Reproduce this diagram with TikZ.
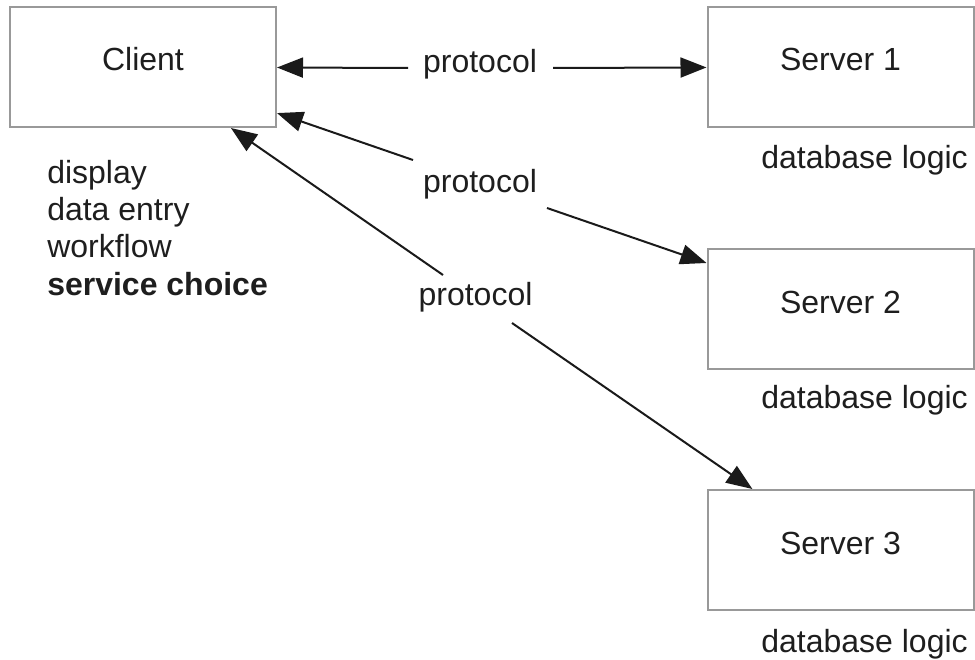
\documentclass[tikz,border=0pt]{standalone}
\usepackage{fontspec}
\setmainfont{Liberation Sans}
\usetikzlibrary{arrows.meta}
\definecolor{boxgray}{HTML}{999999}
\definecolor{arrowblack}{HTML}{1A1A1A}
\definecolor{textblack}{HTML}{1E1E1E}
\begin{document}
\begin{tikzpicture}[x=0.75pt,y=-0.75pt,
  txt/.style={font=\fontsize{24pt}{28pt}\selectfont, inner sep=0pt, text=textblack},
  box/.style={txt, draw=boxgray, line width=1.5pt, text height=48pt, text depth=42pt,
    minimum width=199.5pt, anchor=base},
  conn/.style={draw=arrowblack, line width=1.5pt, -{Triangle[length=19.5pt,width=15pt]}}]
\useasboundingbox (0,0) rectangle (975,660);
% boxes
\node[box] (client) at (143,71) {Client};
\node[box] (server1) at (840.5,71) {Server 1};
\node[box] (server2) at (840.5,313) {Server 2};
\node[box] (server3) at (840.5,554) {Server 3};
% client duties
\node[txt, anchor=base west] (f1) at (47,183) {display};
\node[txt, anchor=base west] (f2) at (47,220) {data entry};
\node[txt, anchor=base west] (f3) at (47,257) {workflow};
\node[txt, anchor=base west, font=\fontsize{24pt}{28pt}\selectfont\bfseries] (f4) at (47,295) {service choice};
% server duties
\node[txt, anchor=base east] (d1) at (968,168) {database logic};
\node[txt, anchor=base east] (d2) at (968,408) {database logic};
\node[txt, anchor=base east] (d3) at (968,652) {database logic};
% protocol labels
\node[txt, anchor=base] (p1) at (480,73) {protocol};
\node[txt, anchor=base] (p2) at (480,192) {protocol};
\node[txt, anchor=base] (p3) at (475.5,305) {protocol};
% connector free ends beside the labels
\coordinate (a1) at (408,68);
\coordinate (b1) at (553,68);
\coordinate (a2) at (413,160);
\coordinate (b2) at (547,208);
\coordinate (a3) at (443,275);
\coordinate (b3) at (512,323);
% connectors
\draw[conn] (a1) -- (client);
\draw[conn] (b1) -- (server1);
\draw[conn] (a2) -- (client);
\draw[conn] (b2) -- (server2);
\draw[conn] (a3) -- (client);
\draw[conn] (b3) -- (server3);
\end{tikzpicture}
\end{document}
